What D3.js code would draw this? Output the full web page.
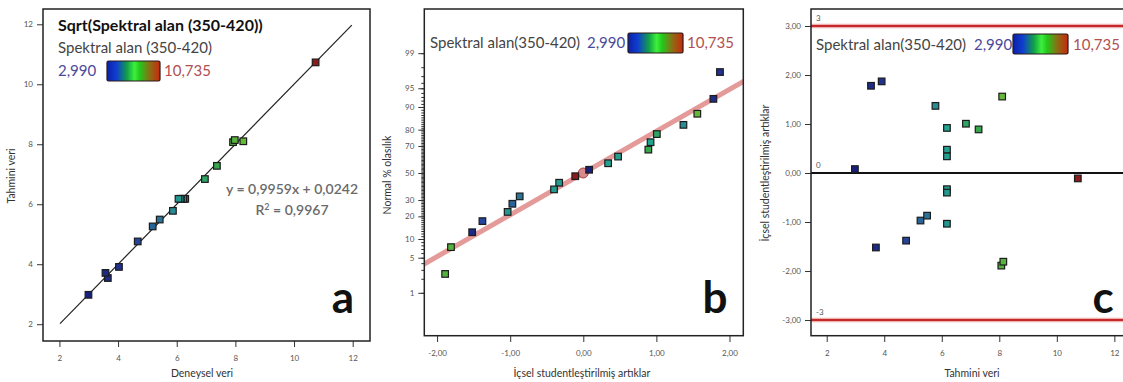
<!DOCTYPE html>
<html>
<head>
<meta charset="utf-8">
<script src="https://cdn.jsdelivr.net/npm/d3@7"></script>
<style>
  body { margin: 0; background: #fff; }
  svg { display: block; font-family: Lato, "Open Sans", sans-serif; }
</style>
</head>
<body>
<div id="chart"></div>
<script>
// Design diagnostics for Sqrt(Spektral alan (350-420)) - three panels a, b, c

// Runs: actual (a x), predicted (a y / c x), studentized residual, normal % (b y)
const runActual    = [2.99, 3.65, 4.03, 3.57, 4.67, 5.18, 5.42, 5.87, 6.29, 6.23, 6.22, 6.14, 6.13, 6.06, 6.96, 7.37, 8.27, 7.92, 7.98, 10.735];
const runPredicted = [2.98, 3.54, 3.91, 3.71, 4.76, 5.26, 5.49, 5.78, 6.18, 6.18, 6.18, 6.18, 6.18, 6.18, 6.84, 7.28, 8.10, 8.07, 8.14, 10.73];
const runResidual  = [0.08, 1.78, 1.87, -1.52, -1.38, -0.97, -0.87, 1.37, 0.92, 0.476, 0.34, -0.33, -0.40, -1.035, 1.006, 0.89, 1.56, -1.89, -1.81, -0.11];
const runNormalPct = [52.5, 92.5, 97.5, 12.5, 17.5, 27.5, 32.5, 82.5, 72.5, 62.5, 57.5, 42.5, 37.5, 22.5, 77.5, 67.5, 87.5, 2.5, 7.5, 47.5];

// fitted lines
const fitA = { x: [2.02, 11.97], y: [2.02, 11.97] };
const fitB = { res: [-2.3, 2.3], pct: [3.1, 96.9] };
const centerB = { res: 0.0, pct: 50 };
const limitsC = [3, -3];
const limitLabelsC = ['3', '-3'];

// tick values and labels
const ticksA = [2, 4, 6, 8, 10, 12];
const ticksBx = [-2, -1, 0, 1, 2];
const ticksBxLabels = ['-2,00', '-1,00', '0,00', '1,00', '2,00'];
const ticksBy = [1, 5, 10, 20, 30, 50, 70, 80, 90, 95, 99];
const minorBy = d3.range(1, 100);
const ticksCx = [2, 4, 6, 8, 10, 12];
const ticksCy = [-3, -2, -1, 0, 1, 2, 3];
const ticksCyLabels = ['-3,00', '-2,00', '-1,00', '0,00', '1,00', '2,00', '3,00'];

const legendName = 'Spektral alan (350-420)';
const legendMin = 2.990, legendMax = 10.735;

const width = 1123, height = 382;
const legendFont = 15;

// marker colour from the response value
const markerColor = d3.scaleLinear()
  .domain([2.99, 4.5, 5.5, 6.3, 7.4, 8.4, 10.735])
  .range(['#17207a', '#24399c', '#2b7898', '#22a48e', '#38a64a', '#6cbc34', '#8a1c1c'])
  .clamp(true);

const fmt3 = v => d3.format('.3f')(v).replace('.', ',');

// inverse normal cdf (Acklam), used for the probability axis
function probit(p) {
  const a = [-39.69683028665376, 220.9460984245205, -275.9285104469687, 138.3577518672690, -30.66479806614716, 2.506628277459239];
  const b = [-54.47609879822406, 161.5858368580409, -155.6989798598866, 66.80131188771972, -13.28068155288572];
  const c = [-0.007784894002430293, -0.3223964580411365, -2.400758277161838, -2.549732539343734, 4.374664141464968, 2.938163982698783];
  const d = [0.007784695709041462, 0.3224671290700398, 2.445134137142996, 3.754408661907416];
  const pl = 0.02425;
  let q, r;
  if (p < pl) {
    q = Math.sqrt(-2 * Math.log(p));
    return (((((c[0]*q+c[1])*q+c[2])*q+c[3])*q+c[4])*q+c[5]) / ((((d[0]*q+d[1])*q+d[2])*q+d[3])*q+1);
  } else if (p <= 1 - pl) {
    q = p - 0.5; r = q * q;
    return (((((a[0]*r+a[1])*r+a[2])*r+a[3])*r+a[4])*r+a[5])*q / (((((b[0]*r+b[1])*r+b[2])*r+b[3])*r+b[4])*r+1);
  }
  q = Math.sqrt(-2 * Math.log(1 - p));
  return -(((((c[0]*q+c[1])*q+c[2])*q+c[3])*q+c[4])*q+c[5]) / ((((d[0]*q+d[1])*q+d[2])*q+d[3])*q+1);
}

const svg = d3.select('#chart').append('svg')
  .attr('width', width)
  .attr('height', height);

// gradient for the legend bars
const grad = svg.append('defs').append('linearGradient').attr('id', 'cbar');
[['0%', '#0c1fa8'], ['18%', '#0f3fd0'], ['38%', '#12a048'], ['52%', '#3cf03c'], ['62%', '#22c81c'], ['80%', '#8a7014'], ['100%', '#c8280e']]
  .forEach(([o, c]) => grad.append('stop').attr('offset', o).attr('stop-color', c));

function styleAxis(g) {
  g.select('.domain').remove();
  g.selectAll('.tick line').attr('stroke', '#333').attr('stroke-width', 1);
  g.selectAll('.tick text').attr('fill', '#555').attr('font-size', 8).attr('font-family', 'Lato, sans-serif');
}

function frame(g, x0, y0, x1, y1) {
  g.append('rect')
    .attr('x', x0).attr('y', y0)
    .attr('width', x1 - x0).attr('height', y1 - y0)
    .attr('fill', 'none')
    .attr('stroke', '#222')
    .attr('stroke-width', 1.5);
}

function clip(id, x0, y0, x1, y1) {
  svg.select('defs').append('clipPath').attr('id', id)
    .append('rect').attr('x', x0).attr('y', y0).attr('width', x1 - x0).attr('height', y1 - y0);
}

// legend: name, min value, colour bar, max value
function legend(g, pos) {
  g.append('text').attr('x', pos.nameX).attr('y', pos.nameY)
    .attr('font-size', legendFont).attr('fill', '#444').text(pos.name);
  g.append('text').attr('x', pos.minX).attr('y', pos.valY)
    .attr('font-size', legendFont).attr('fill', '#4a4a9a').text(fmt3(legendMin));
  g.append('rect')
    .attr('x', pos.barX).attr('y', pos.barY).attr('width', pos.barW).attr('height', 20)
    .attr('rx', 1.5)
    .attr('fill', 'url(#cbar)')
    .attr('stroke', '#2a1a1a').attr('stroke-width', 1.2);
  g.append('text').attr('x', pos.maxX).attr('y', pos.valY)
    .attr('font-size', legendFont).attr('fill', '#b05050').text(fmt3(legendMax));
}

function markers(g, xs, ys, vals) {
  g.append('g').selectAll('rect')
    .data(vals.map((v, i) => ({ v, x: xs[i], y: ys[i] })))
    .join('rect')
    .attr('x', d => d.x - 3.3)
    .attr('y', d => d.y - 3.3)
    .attr('width', 6.6).attr('height', 6.6)
    .attr('fill', d => markerColor(d.v))
    .attr('stroke', '#1c1c1c')
    .attr('stroke-width', 1.2);
}

function bigLetter(g, x, y, t) {
  g.append('text').attr('x', x).attr('y', y)
    .attr('text-anchor', 'middle')
    .attr('font-size', 44).attr('font-weight', 'bold')
    .attr('fill', '#111')
    .text(t);
}

function axisTitle(g, x, y, t, rotate) {
  g.append('text')
    .attr('transform', `translate(${x},${y})` + (rotate ? ' rotate(-90)' : ''))
    .attr('text-anchor', 'middle')
    .attr('font-size', 10.5)
    .attr('fill', '#333')
    .text(t);
}

// ---------- panel a: predicted vs actual ----------
(function panelA() {
  const g = svg.append('g');
  const x = d3.scaleLinear().domain([1.44, 12.59]).range([43, 370]);
  const y = d3.scaleLinear().domain([1.44, 12.51]).range([341, 9]);

  g.append('g').attr('transform', 'translate(0,341)')
    .call(d3.axisBottom(x).tickValues(ticksA).tickFormat(d3.format('d')).tickSize(6).tickPadding(8).tickSizeOuter(0))
    .call(styleAxis);
  g.append('g').attr('transform', 'translate(43,0)')
    .call(d3.axisLeft(y).tickValues(ticksA).tickFormat(d3.format('d')).tickSize(6).tickPadding(4).tickSizeOuter(0))
    .call(styleAxis);

  g.append('line')
    .attr('x1', x(fitA.x[0])).attr('y1', y(fitA.y[0]))
    .attr('x2', x(fitA.x[1])).attr('y2', y(fitA.y[1]))
    .attr('stroke', '#222').attr('stroke-width', 1.2);

  markers(g, runActual.map(x), runPredicted.map(y), runActual);
  frame(g, 43, 9, 370, 341);

  g.append('text').attr('x', 58).attr('y', 31)
    .attr('font-size', 16).attr('font-weight', 'bold').attr('fill', '#111')
    .text('Sqrt(Spektral alan (350-420))');
  legend(g, { name: legendName, nameX: 58, nameY: 53, minX: 58, valY: 76, barX: 107, barY: 61, barW: 53, maxX: 164 });

  g.append('text').attr('x', 358).attr('y', 194)
    .attr('text-anchor', 'end').attr('font-size', 14).attr('font-weight', 600).attr('fill', '#6a6a6a')
    .text('y = 0,9959x + 0,0242');
  g.append('text').attr('x', 292).attr('y', 215)
    .attr('text-anchor', 'middle').attr('font-size', 14).attr('font-weight', 600).attr('fill', '#6a6a6a')
    .html('R<tspan dy="-5" font-size="9">2</tspan><tspan dy="5"> = 0,9967</tspan>');

  bigLetter(g, 343, 313, 'a');
  axisTitle(g, 15, 176, 'Tahmini  veri', true);
  axisTitle(g, 202, 377, 'Deneysel veri', false);
})();

// ---------- panel b: normal probability plot ----------
(function panelB() {
  const g = svg.append('g');
  const x = d3.scaleLinear().domain([-2.175, 2.189]).range([424.3, 743.3]);
  const z = d3.scaleLinear().domain([-3.159, 3.184]).range([335.7, 9]);
  const yp = p => z(probit(p / 100));

  g.append('g').attr('transform', 'translate(0,336)')
    .call(d3.axisBottom(x).tickValues(ticksBx).tickFormat((d, i) => ticksBxLabels[i]).tickSize(6).tickPadding(8).tickSizeOuter(0))
    .call(styleAxis);
  g.append('g').attr('transform', 'translate(424.3,0)')
    .call(d3.axisLeft(z).tickValues(minorBy.map(p => probit(p / 100))).tickFormat('').tickSize(3).tickSizeOuter(0))
    .call(styleAxis);
  g.append('g').attr('transform', 'translate(424.3,0)')
    .call(d3.axisLeft(z).tickValues(ticksBy.map(p => probit(p / 100))).tickFormat((d, i) => ticksBy[i]).tickSize(6).tickPadding(4).tickSizeOuter(0))
    .call(styleAxis);

  clip('clipB', 424.3, 9, 743.3, 335.7);
  g.append('line').attr('clip-path', 'url(#clipB)')
    .attr('x1', x(fitB.res[0])).attr('y1', yp(fitB.pct[0]))
    .attr('x2', x(fitB.res[1])).attr('y2', yp(fitB.pct[1]))
    .attr('stroke', '#e59a9a').attr('stroke-width', 5);

  g.append('circle')
    .attr('cx', x(centerB.res)).attr('cy', yp(centerB.pct)).attr('r', 5)
    .attr('fill', '#d88a8a').attr('stroke', '#a04040').attr('stroke-width', 1);

  markers(g, runResidual.map(x), runNormalPct.map(yp), runActual);
  frame(g, 424.3, 9, 743.3, 335.7);

  legend(g, { name: 'Spektral alan(350-420)', nameX: 430, nameY: 48, minX: 587, valY: 48, barX: 628, barY: 33, barW: 55, maxX: 687 });

  bigLetter(g, 715, 313, 'b');
  axisTitle(g, 391, 175, 'Normal  %  olasılık', true);
  axisTitle(g, 582, 377, 'İçsel studentleştirilmiş artıklar', false);
})();

// ---------- panel c: residuals vs predicted ----------
(function panelC() {
  const g = svg.append('g');
  const x = d3.scaleLinear().domain([1.454, 12.37]).range([811, 1125]);
  const y = d3.scaleLinear().domain([-3.32, 3.347]).range([335.7, 9]);

  g.append('g').attr('transform', 'translate(0,336)')
    .call(d3.axisBottom(x).tickValues(ticksCx).tickFormat(d3.format('d')).tickSize(6).tickPadding(8).tickSizeOuter(0))
    .call(styleAxis);
  g.append('g').attr('transform', 'translate(811,0)')
    .call(d3.axisLeft(y).tickValues(ticksCy).tickFormat((d, i) => ticksCyLabels[i]).tickSize(6).tickPadding(4).tickSizeOuter(0))
    .call(styleAxis);

  clip('clipC', 811, 9, 1125, 335.7);
  const lines = g.append('g').attr('clip-path', 'url(#clipC)');
  limitsC.forEach((v, i) => {
    lines.append('line')
      .attr('x1', 811).attr('x2', 1125).attr('y1', y(v)).attr('y2', y(v))
      .attr('stroke', '#f0b0b0').attr('stroke-width', 4.5);
    lines.append('line')
      .attr('x1', 811).attr('x2', 1125).attr('y1', y(v)).attr('y2', y(v))
      .attr('stroke', '#c42a2a').attr('stroke-width', 2.2);
    g.append('text').attr('x', 816).attr('y', y(v) - 5)
      .attr('font-size', 8).attr('fill', '#555').text(limitLabelsC[i]);
  });
  lines.append('line')
    .attr('x1', 811).attr('x2', 1125).attr('y1', y(0)).attr('y2', y(0))
    .attr('stroke', '#111').attr('stroke-width', 1.8);
  g.append('text').attr('x', 816).attr('y', y(0) - 5)
    .attr('font-size', 8).attr('fill', '#555').text('0');

  markers(g, runPredicted.map(x), runResidual.map(y), runActual);
  frame(g, 811, 9, 1125, 335.7);

  legend(g, { name: 'Spektral alan(350-420)', nameX: 816, nameY: 50, minX: 974, valY: 50, barX: 1013, barY: 34, barW: 55, maxX: 1073 });

  bigLetter(g, 1103, 313, 'c');
  axisTitle(g, 769, 173, 'İçsel  studentleştirilmiş  artıklar', true);
  axisTitle(g, 972, 377, 'Tahmini veri', false);
})();
</script>
</body>
</html>
